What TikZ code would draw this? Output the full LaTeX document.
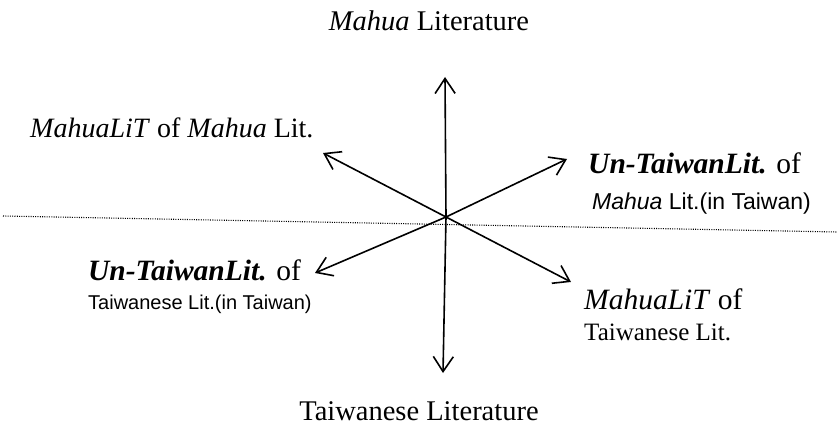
\documentclass[tikz,border=0pt]{standalone}
\usepackage{fontspec}
\setmainfont{Liberation Serif}
\newfontfamily\sansf{Liberation Sans}
\usetikzlibrary{arrows.meta}
\tikzset{
  arr/.style={line width=1.6bp,-{Straight Barb[length=15bp,width=20bp,line width=1.6bp]}},
  dotline/.style={line width=1.1bp,dash pattern=on 1bp off 1.3bp},
  big/.style={font=\fontsize{28.5bp}{32bp}\selectfont,inner sep=0pt},
  mid/.style={font=\fontsize{28bp}{32bp}\selectfont,inner sep=0pt,anchor=west},
  bolder/.style={font=\fontsize{29.5bp}{32bp}\selectfont,inner sep=0pt,anchor=west},
  small/.style={font=\sansf\fontsize{20bp}{24bp}\selectfont,inner sep=0pt,anchor=west}
}
\begin{document}
\begin{tikzpicture}[x=1bp,y=-1bp]
\useasboundingbox (0,0) rectangle (837,437);
\coordinate (c) at (446,217);
\coordinate (top) at (445,77);
\coordinate (bot) at (443,373);
\coordinate (ul) at (323,153);
\coordinate (ur) at (567,159);
\coordinate (ll) at (315,273);
\coordinate (lr) at (571,282);
\coordinate (dl) at (3,216);
\coordinate (dr) at (837,232);
\draw[dotline] (dl) -- (dr);
\draw[arr] (c) -- (top);
\draw[arr] (c) -- (bot);
\draw[arr] (c) -- (ul);
\draw[arr] (c) -- (ur);
\draw[arr] (c) -- (ll);
\draw[arr] (c) -- (lr);
\node[big] (tTop) at (429,21) {\textit{Mahua} Literature};
\node[big] (tBot) at (419,411) {Taiwanese Literature};
\node[mid] (tUL) at (30,128) {\textit{MahuaLiT} of \textit{Mahua} Lit.};
\node[bolder] (tUR1) at (588,163) {\textbf{\textit{Un-TaiwanLit.}} of};
\node[small,font=\sansf\fontsize{23bp}{26bp}\selectfont] (tUR2) at (592,204) {\textit{Mahua} Lit.(in Taiwan)};
\node[bolder] (tLL1) at (88,270) {\textbf{\textit{Un-TaiwanLit.}} of};
\node[small] (tLL2) at (88,304) {Taiwanese Lit.(in Taiwan)};
\node[bolder] (tLR1) at (584,299) {\textit{MahuaLiT} of};
\node[mid,font=\fontsize{25bp}{28bp}\selectfont] (tLR2) at (584,332) {Taiwanese Lit.};
\end{tikzpicture}
\end{document}
